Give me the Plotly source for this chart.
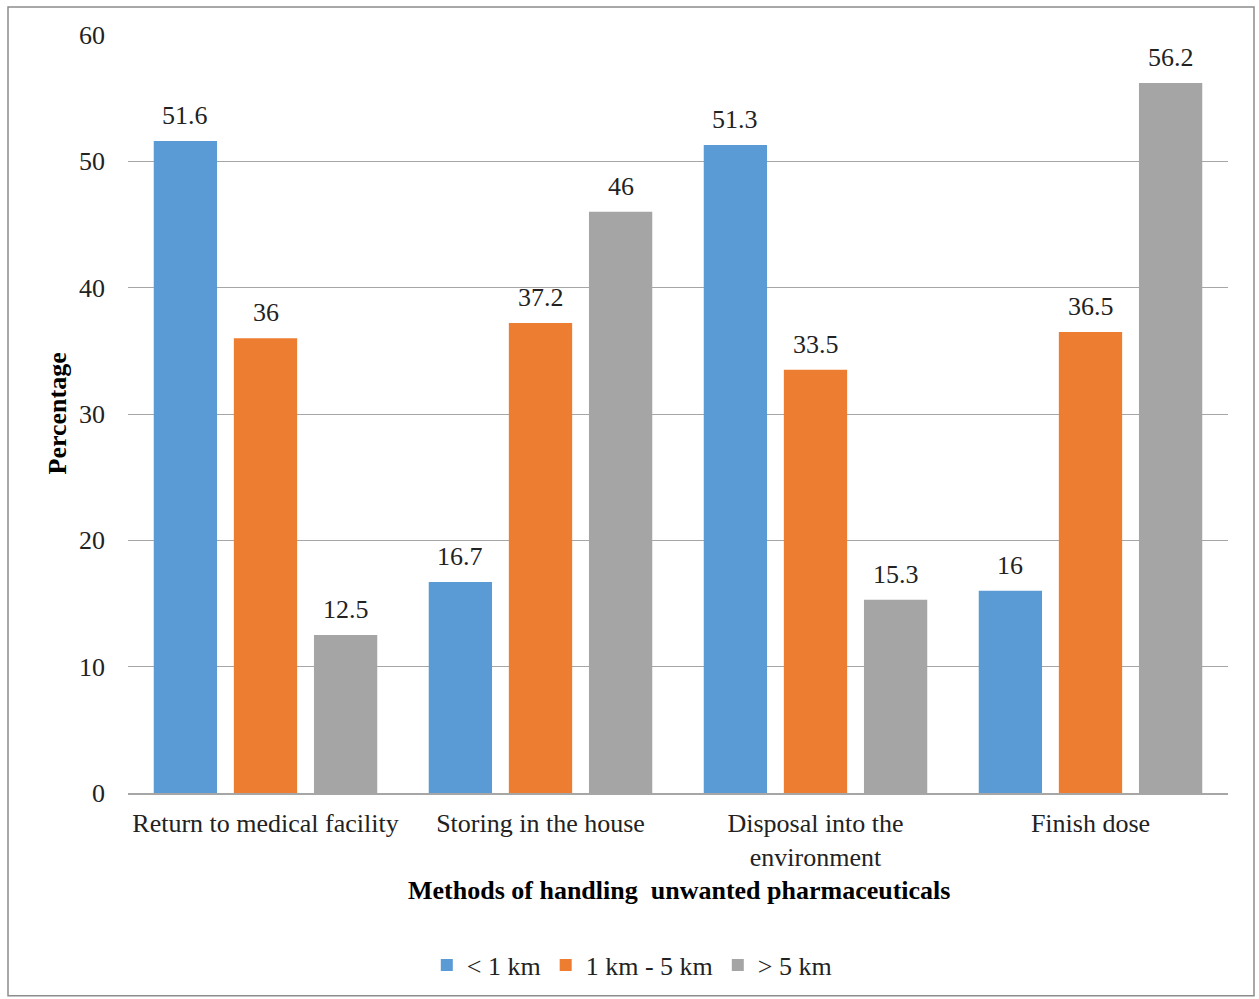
import plotly.graph_objects as go

categories = ["Return to medical facility", "Storing in the house",
              "Disposal into the<br>environment", "Finish dose"]
series_names = ["< 1 km", "1 km - 5 km", "> 5 km"]
near = [51.6, 16.7, 51.3, 16]
middle = [36, 37.2, 33.5, 36.5]
far = [12.5, 46, 15.3, 56.2]
y_ticks = [0, 10, 20, 30, 40, 50, 60]

colors = ["#5B9BD5", "#ED7D31", "#A5A5A5"]
font_family = "Liberation Serif"
fs = 26

W, H = 1259, 999
L, R, T, B = 128, 31, 35, 205
plot_w = W - L - R
plot_h = H - T - B
bargap = 0.126
slot_px = plot_w / len(categories) * (1 - bargap) / 3

fig = go.Figure()
for i, (name, vals) in enumerate(zip(series_names, [near, middle, far])):
    fig.add_trace(go.Bar(x=categories, y=vals, name=name,
                         marker=dict(color=colors[i], line=dict(width=0))))
    for cat, v in zip(categories, vals):
        fig.add_annotation(x=cat, y=v, xref="x", yref="y", text=f"{v:g}",
                           showarrow=False, yanchor="bottom",
                           xshift=(i - 1) * slot_px, yshift=9,
                           font=dict(family=font_family, size=fs, color="#222"))

fig.add_annotation(x=(58 - L) / plot_w, y=(T + plot_h - 414) / plot_h,
                   xref="paper", yref="paper", xanchor="center", yanchor="middle",
                   text="<b>Percentage</b>", textangle=-90, showarrow=False,
                   font=dict(family=font_family, size=fs, color="#000"))
fig.add_annotation(x=(679 - L) / plot_w, y=(T + plot_h - 892) / plot_h,
                   xref="paper", yref="paper", xanchor="center", yanchor="middle",
                   text="<b>Methods of handling  unwanted pharmaceuticals</b>",
                   showarrow=False,
                   font=dict(family=font_family, size=fs, color="#000"))

# outer frame around the whole chart
fig.add_shape(type="rect", xref="paper", yref="paper",
              x0=(8 - L) / plot_w, x1=(1254 - L) / plot_w,
              y0=(T + plot_h - 997) / plot_h, y1=(T + plot_h - 7) / plot_h,
              line=dict(color="#8C8C8C", width=1.5))

fig.update_layout(
    width=W, height=H,
    margin=dict(l=L, r=R, t=T, b=B, pad=0),
    paper_bgcolor="white", plot_bgcolor="white",
    barmode="group", bargap=bargap, bargroupgap=0.21,
    font=dict(family=font_family, size=fs, color="#222"),
    showlegend=True,
    legend=dict(orientation="h", x=0.458, xanchor="center",
                y=(T + plot_h - 965) / plot_h, yanchor="middle",
                font=dict(family=font_family, size=fs, color="#222"),
                itemwidth=30, traceorder="normal"),
    xaxis=dict(showline=True, linecolor="#A6A6A6", linewidth=1.5,
               showgrid=False, ticks="", ticklabelstandoff=6,
               tickfont=dict(family=font_family, size=fs, color="#222")),
    yaxis=dict(range=[0, 60], tickvals=y_ticks, showgrid=True,
               gridcolor="#A6A6A6", gridwidth=1, zeroline=False,
               showline=False, ticks="", ticklabelstandoff=22,
               tickfont=dict(family=font_family, size=fs, color="#222")),
)

fig.write_html("out.html")
